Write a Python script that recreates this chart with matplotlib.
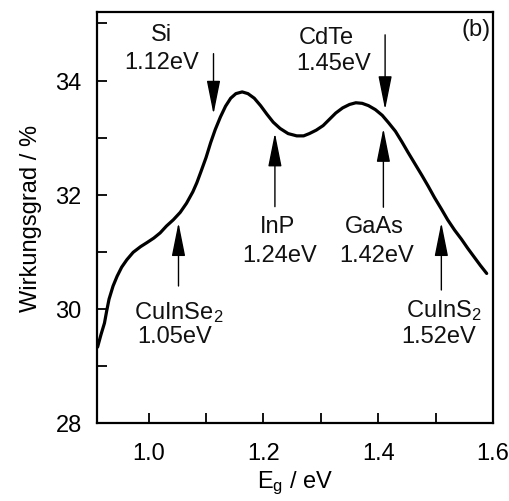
import matplotlib
matplotlib.use('Agg')
import matplotlib.pyplot as plt
from matplotlib.ticker import MultipleLocator

plt.rcParams['font.family'] = ['Liberation Sans', 'DejaVu Sans']
plt.rcParams['mathtext.fontset'] = 'custom'
plt.rcParams['mathtext.rm'] = 'Liberation Sans'
plt.rcParams['mathtext.it'] = 'Liberation Sans:italic'
plt.rcParams['mathtext.default'] = 'rm'

# efficiency curve
eg = [0.911, 0.917, 0.923, 0.927, 0.931, 0.938, 0.945, 0.953, 0.962, 0.973,
      0.986, 0.997, 1.009, 1.020, 1.031, 1.043, 1.055, 1.066, 1.077, 1.084,
      1.091, 1.100, 1.108, 1.116, 1.125, 1.134, 1.143, 1.152, 1.163, 1.173,
      1.184, 1.195, 1.206, 1.217, 1.229, 1.243, 1.258, 1.270, 1.280, 1.292,
      1.304, 1.314, 1.326, 1.338, 1.350, 1.361, 1.372, 1.383, 1.395, 1.407,
      1.418, 1.430, 1.441, 1.452, 1.464, 1.476, 1.487, 1.498, 1.510, 1.521,
      1.533, 1.545, 1.556, 1.567, 1.578, 1.589]
eff = [29.33, 29.55, 29.75, 29.97, 30.17, 30.40, 30.57, 30.73, 30.86, 30.99,
       31.09, 31.16, 31.24, 31.33, 31.45, 31.56, 31.69, 31.85, 32.05, 32.21,
       32.40, 32.65, 32.91, 33.14, 33.36, 33.55, 33.69, 33.77, 33.80, 33.77,
       33.69, 33.56, 33.41, 33.27, 33.16, 33.07, 33.03, 33.03, 33.07, 33.13,
       33.21, 33.31, 33.43, 33.52, 33.58, 33.61, 33.60, 33.56, 33.49, 33.39,
       33.26, 33.11, 32.93, 32.74, 32.54, 32.34, 32.15, 31.95, 31.75, 31.56,
       31.38, 31.22, 31.06, 30.91, 30.76, 30.62]

# semiconductors marked with arrows
materials = ['Si', 'CdTe', 'InP', 'GaAs', r'CuInSe$_2$', r'CuInS$_2$']
gaps = ['1.12eV', '1.45eV', '1.24eV', '1.42eV', '1.05eV', '1.52eV']
arrow_x = [1.113, 1.412, 1.220, 1.409, 1.052, 1.510]

# arrow tail / tip heights and label positions (layout)
arrow_tail = [34.47, 34.80, 31.79, 31.78, 30.40, 30.33]
arrow_tip = [33.41, 33.49, 33.08, 33.16, 31.51, 31.51]
name_pos = [(1.022, 34.82), (1.309, 34.77), (1.225, 31.45),
            (1.393, 31.45), (1.052, 29.95), (1.515, 29.98)]
gap_pos = [(1.022, 34.32), (1.323, 34.30), (1.229, 30.95),
           (1.397, 30.95), (1.045, 29.53), (1.505, 29.53)]

fs = 17
fig = plt.figure(figsize=(5.1, 5.02), dpi=100)
ax = fig.add_axes([97 / 510, 1 - 424 / 502, (493 - 97) / 510, (424 - 13) / 502])

ax.plot(eg, eff, color='black', lw=2.3, solid_joinstyle='round', solid_capstyle='round')

for i in range(len(materials)):
    ax.annotate('', xy=(arrow_x[i], arrow_tip[i]), xytext=(arrow_x[i], arrow_tail[i]),
                arrowprops=dict(arrowstyle='-|>,head_length=2.1,head_width=0.42',
                                mutation_scale=10, color='black', lw=1.0,
                                shrinkA=0, shrinkB=0))
    ax.text(name_pos[i][0], name_pos[i][1], materials[i], fontsize=fs,
            ha='center', va='center', color='#111111')
    ax.text(gap_pos[i][0], gap_pos[i][1], gaps[i], fontsize=fs,
            ha='center', va='center', color='#111111')

ax.text(0.957, 0.959, '(b)', transform=ax.transAxes, fontsize=fs,
        ha='center', va='center', color='#111111')

ax.set_xlim(0.91, 1.6)
ax.set_ylim(28, 35.2)
ax.xaxis.set_major_locator(MultipleLocator(0.2))
ax.xaxis.set_minor_locator(MultipleLocator(0.1))
ax.yaxis.set_major_locator(MultipleLocator(2))
ax.yaxis.set_minor_locator(MultipleLocator(1))
ax.tick_params(which='both', direction='in', length=7, width=1.3,
               top=False, right=False, labelsize=fs)
ax.tick_params(axis='y', pad=11)
ax.tick_params(axis='x', pad=14)

for sp in ax.spines.values():
    sp.set_linewidth(1.6)

ax.set_xlabel(r'E$_\mathrm{g}$ / eV', fontsize=fs, labelpad=3)
ax.set_ylabel('Wirkungsgrad / %', fontsize=fs, labelpad=10)

fig.savefig('out.png', dpi=100)
